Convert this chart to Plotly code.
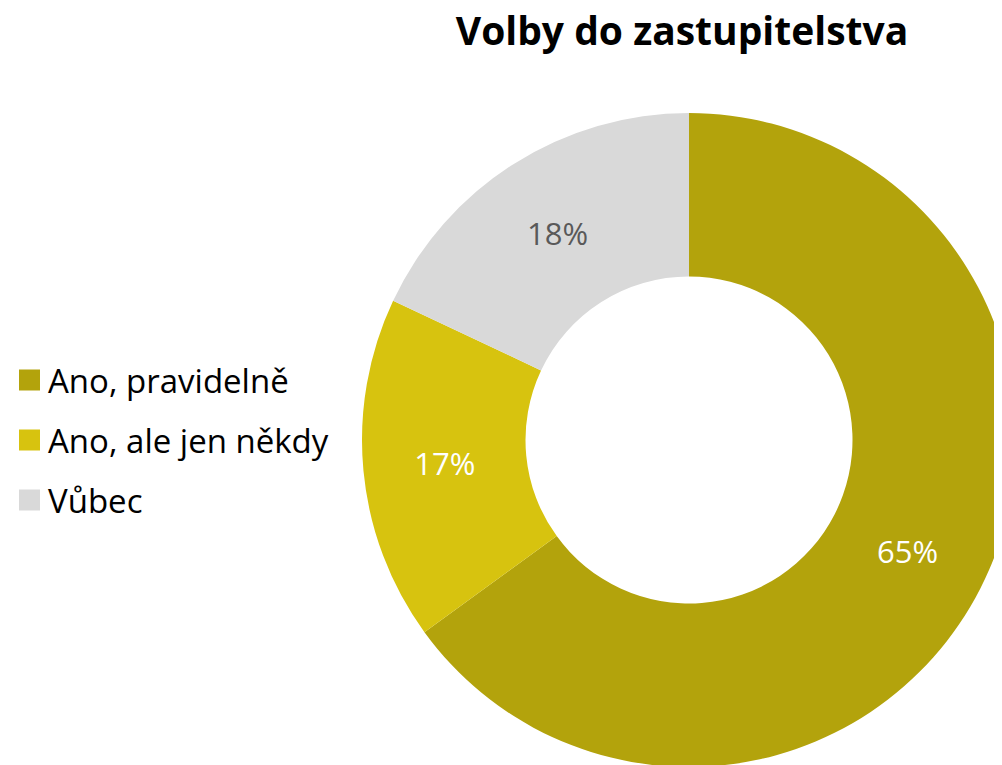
import plotly.graph_objects as go

categories = ["Ano, pravidelně", "Ano, ale jen někdy", "Vůbec"]
values = [65, 17, 18]
colors = ["#B3A30C", "#D7C30F", "#D9D9D9"]
text_colors = ["#FFFFFF", "#FFFFFF", "#595959"]
title = "Volby do zastupitelstva"

# page body has an 8px default margin; positions below are given in page pixels
OFF = 8
W, H = 1010, 762
FONT = "Open Sans"


def px(x):
    return (x - OFF) / W


def py(y):
    return 1 - (y - OFF) / H


fig = go.Figure()
fig.add_trace(go.Pie(
    labels=categories,
    values=values,
    marker=dict(colors=colors, line=dict(width=0)),
    hole=0.5,
    sort=False,
    direction="clockwise",
    rotation=0,
    textinfo="percent",
    texttemplate="%{percent:.0%}",
    textposition="inside",
    insidetextorientation="horizontal",
    textfont=dict(family=FONT, size=31, color=text_colors),
    domain=dict(x=[px(362), px(1016)], y=[py(767), py(113)]),
    showlegend=False,
    hoverinfo="label+percent",
))

# custom legend
for i, (cat, col) in enumerate(zip(categories, colors)):
    cy = 380 + 60 * i
    fig.add_shape(type="rect", xref="paper", yref="paper",
                  x0=px(19), x1=px(40), y0=py(cy + 10.5), y1=py(cy - 10.5),
                  fillcolor=col, line=dict(width=0))
    fig.add_annotation(xref="paper", yref="paper", x=px(46), y=py(cy),
                       xanchor="left", yanchor="middle", showarrow=False,
                       text=cat, font=dict(family=FONT, size=33, color="#000000"))

fig.update_layout(
    width=W, height=H,
    margin=dict(l=0, r=0, t=0, b=0),
    paper_bgcolor="white", plot_bgcolor="white",
    title=dict(text="<b>" + title + "</b>", x=px(682), xanchor="center",
               y=py(31), yanchor="middle",
               font=dict(family=FONT, size=39, color="#000000")),
)

fig.write_html("out.html")
